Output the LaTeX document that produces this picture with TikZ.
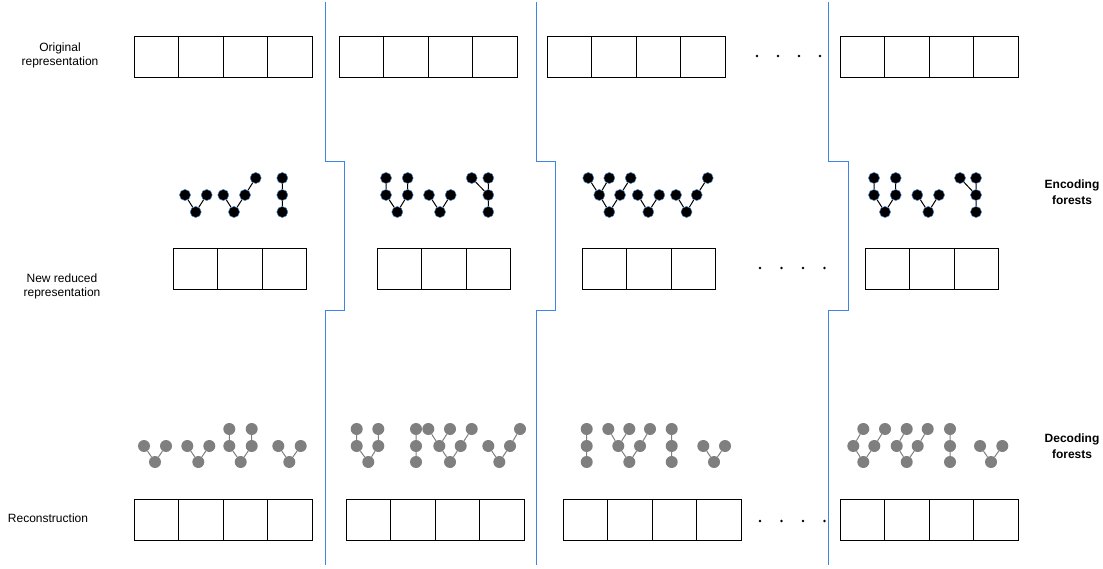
\documentclass[tikz,border=0pt]{standalone}
\usepackage{fontspec}
\setmainfont{Liberation Sans}
\definecolor{sepblue}{HTML}{3C85E6}
\definecolor{encblue}{HTML}{4A7FC0}
\definecolor{decgray}{HTML}{7F7F7F}
\tikzset{
  enc/.style={circle, fill=black, draw=encblue, line width=0.5pt, minimum size=11pt, inner sep=0pt},
  dec/.style={circle, fill=decgray, minimum size=12pt, inner sep=0pt},
  encedge/.style={black, line width=1pt},
  decedge/.style={decgray, line width=1pt},
  cell/.style={draw=black, line width=0.8pt, minimum width=44.5pt, minimum height=41pt, inner sep=0pt},
  sepline/.style={draw=sepblue, line width=1pt},
  lbl/.style={font=\fontsize{12}{14}\selectfont, align=center, inner sep=0pt},
  blbl/.style={font=\fontsize{12}{16}\selectfont\bfseries, align=center, inner sep=0pt},
  dotn/.style={circle, fill=black, minimum size=2.6pt, inner sep=0pt},
}
\begin{document}
\begin{tikzpicture}[x=1pt, y=-1pt]
\useasboundingbox (0,0) rectangle (1103,569);

% separator lines
\draw[sepline] (325,2) -- (325,162) -- (344,162) -- (344,311) -- (325,311) -- (325,565);
\draw[sepline] (536,2) -- (536,162) -- (555,162) -- (555,311) -- (536,311) -- (536,565);
\draw[sepline] (828,2) -- (828,162) -- (848,162) -- (848,311) -- (828,311) -- (828,565);

% labels
\node[lbl] (lorig) at (60,55) {Original\\representation};
\node[lbl] (lnew) at (62,286) {New reduced\\representation};
\node[lbl] (lrec) at (48,518) {Reconstruction};
\node[blbl] (lenc) at (1072,192) {Encoding\\forests};
\node[blbl] (ldec) at (1072,446) {Decoding\\forests};

% row 1: original representation
\foreach \g/\x in {1/134, 2/339, 3/547, 4/840}{
  \foreach \i in {0,1,2,3}{
    \node[cell] (o\g c\i) at ({\x+22.25+44.5*\i},56.5) {};
  }
}
% row 2: reduced representation
\foreach \g/\x in {1/173, 2/377, 3/582, 4/865}{
  \foreach \i in {0,1,2}{
    \node[cell] (n\g c\i) at ({\x+22.25+44.5*\i},268.5) {};
  }
}
% row 3: reconstruction
\foreach \g/\x in {1/134, 2/346, 3/563, 4/840}{
  \foreach \i in {0,1,2,3}{
    \node[cell] (r\g c\i) at ({\x+22.25+44.5*\i},519.5) {};
  }
}

% ellipsis dots
\foreach \i in {0,1,2,3}{
  \node[dotn] (dA\i) at ({757+21*\i},56) {};
  \node[dotn] (dB\i) at ({760+21.5*\i},268) {};
  \node[dotn] (dC\i) at ({760+21.5*\i},521) {};
}

% ---------- encoding forests ----------
% group 1
\node[enc] (e1a1) at (185,195) {};
\node[enc] (e1a2) at (195.7,212) {};
\node[enc] (e1a3) at (206.7,195) {};
\node[enc] (e1b1) at (223.3,195) {};
\node[enc] (e1b2) at (234,212) {};
\node[enc] (e1b3) at (245,195) {};
\node[enc] (e1b4) at (255.7,178) {};
\node[enc] (e1c1) at (282.3,178) {};
\node[enc] (e1c2) at (282.3,195) {};
\node[enc] (e1c3) at (282.3,212) {};
\draw[encedge] (e1a1) -- (e1a2) (e1a3) -- (e1a2)
  (e1b1) -- (e1b2) (e1b3) -- (e1b2) (e1b4) -- (e1b3)
  (e1c1) -- (e1c2) (e1c2) -- (e1c3);
% group 2
\node[enc] (e2a1) at (386,178) {};
\node[enc] (e2a2) at (386,195) {};
\node[enc] (e2a3) at (397.3,212) {};
\node[enc] (e2a4) at (407.7,195) {};
\node[enc] (e2a5) at (407.7,178) {};
\node[enc] (e2b1) at (429,195) {};
\node[enc] (e2b2) at (440,212) {};
\node[enc] (e2b3) at (450.7,195) {};
\node[enc] (e2c1) at (471.7,178) {};
\node[enc] (e2c2) at (488.3,178) {};
\node[enc] (e2c3) at (488.3,195) {};
\node[enc] (e2c4) at (488.3,212) {};
\draw[encedge] (e2a1) -- (e2a2) (e2a2) -- (e2a3) (e2a4) -- (e2a3) (e2a5) -- (e2a4)
  (e2b1) -- (e2b2) (e2b3) -- (e2b2)
  (e2c1) -- (e2c3) (e2c2) -- (e2c3) (e2c3) -- (e2c4);
% group 3
\node[enc] (e3a1) at (588.3,178) {};
\node[enc] (e3a2) at (609.3,178) {};
\node[enc] (e3a3) at (630.7,178) {};
\node[enc] (e3a4) at (599.3,195) {};
\node[enc] (e3a5) at (620,195) {};
\node[enc] (e3a6) at (609.3,212) {};
\node[enc] (e3b1) at (637.7,195) {};
\node[enc] (e3b2) at (648.3,212) {};
\node[enc] (e3b3) at (659.3,195) {};
\node[enc] (e3c1) at (676,195) {};
\node[enc] (e3c2) at (686.5,212) {};
\node[enc] (e3c3) at (696.7,195) {};
\node[enc] (e3c4) at (707.7,178) {};
\draw[encedge] (e3a1) -- (e3a4) (e3a2) -- (e3a4) (e3a3) -- (e3a5) (e3a4) -- (e3a6) (e3a5) -- (e3a6)
  (e3b1) -- (e3b2) (e3b3) -- (e3b2)
  (e3c1) -- (e3c2) (e3c3) -- (e3c2) (e3c4) -- (e3c3);
% group 4
\node[enc] (e4a1) at (874,178) {};
\node[enc] (e4a2) at (874,195) {};
\node[enc] (e4a3) at (885,212) {};
\node[enc] (e4a4) at (895.7,195) {};
\node[enc] (e4a5) at (895.7,178) {};
\node[enc] (e4b1) at (917.3,195) {};
\node[enc] (e4b2) at (928.3,212) {};
\node[enc] (e4b3) at (939,195) {};
\node[enc] (e4c1) at (960,178) {};
\node[enc] (e4c2) at (976,178) {};
\node[enc] (e4c3) at (976,195) {};
\node[enc] (e4c4) at (976,212) {};
\draw[encedge] (e4a1) -- (e4a2) (e4a2) -- (e4a3) (e4a4) -- (e4a3) (e4a5) -- (e4a4)
  (e4b1) -- (e4b2) (e4b3) -- (e4b2)
  (e4c1) -- (e4c3) (e4c2) -- (e4c3) (e4c3) -- (e4c4);

% ---------- decoding forests ----------
% group 1
\node[dec] (d1a1) at (144,446) {};
\node[dec] (d1a2) at (155,462) {};
\node[dec] (d1a3) at (166,446) {};
\node[dec] (d1b1) at (187.3,446) {};
\node[dec] (d1b2) at (198.3,462) {};
\node[dec] (d1b3) at (209.3,446) {};
\node[dec] (d1c1) at (229.3,429) {};
\node[dec] (d1c2) at (229.3,446) {};
\node[dec] (d1c3) at (240.7,462) {};
\node[dec] (d1c4) at (251.7,446) {};
\node[dec] (d1c5) at (251.7,429) {};
\node[dec] (d1d1) at (278.3,446) {};
\node[dec] (d1d2) at (289.3,462) {};
\node[dec] (d1d3) at (300.7,446) {};
\draw[decedge] (d1a1) -- (d1a2) (d1a3) -- (d1a2)
  (d1b1) -- (d1b2) (d1b3) -- (d1b2)
  (d1c1) -- (d1c2) (d1c2) -- (d1c3) (d1c4) -- (d1c3) (d1c5) -- (d1c4)
  (d1d1) -- (d1d2) (d1d3) -- (d1d2);
% group 2
\node[dec] (d2a1) at (356.7,429) {};
\node[dec] (d2a2) at (356.7,446) {};
\node[dec] (d2a3) at (368.3,462) {};
\node[dec] (d2a4) at (378.3,446) {};
\node[dec] (d2a5) at (378.3,429) {};
\node[dec] (d2b1) at (416,429) {};
\node[dec] (d2b2) at (416,446) {};
\node[dec] (d2b3) at (416,462) {};
\node[dec] (d2c1) at (428.3,429) {};
\node[dec] (d2c2) at (450,429) {};
\node[dec] (d2c3) at (471.7,429) {};
\node[dec] (d2c4) at (439.3,446) {};
\node[dec] (d2c5) at (460.7,446) {};
\node[dec] (d2c6) at (450,462) {};
\node[dec] (d2d1) at (488.3,446) {};
\node[dec] (d2d2) at (499.3,462) {};
\node[dec] (d2d3) at (510,446) {};
\node[dec] (d2d4) at (520,429) {};
\draw[decedge] (d2a1) -- (d2a2) (d2a2) -- (d2a3) (d2a4) -- (d2a3) (d2a5) -- (d2a4)
  (d2b1) -- (d2b2) (d2b2) -- (d2b3)
  (d2c1) -- (d2c4) (d2c2) -- (d2c4) (d2c3) -- (d2c5) (d2c4) -- (d2c6) (d2c5) -- (d2c6)
  (d2d1) -- (d2d2) (d2d3) -- (d2d2) (d2d4) -- (d2d3);
% group 3
\node[dec] (d3a1) at (586.7,429) {};
\node[dec] (d3a2) at (586.7,446) {};
\node[dec] (d3a3) at (586.7,462) {};
\node[dec] (d3b1) at (608.3,429) {};
\node[dec] (d3b2) at (629.3,429) {};
\node[dec] (d3b3) at (650,429) {};
\node[dec] (d3b4) at (618.3,446) {};
\node[dec] (d3b5) at (640,446) {};
\node[dec] (d3b6) at (629.3,462) {};
\node[dec] (d3c1) at (671.7,429) {};
\node[dec] (d3c2) at (671.7,446) {};
\node[dec] (d3c3) at (671.7,462) {};
\node[dec] (d3d1) at (703.3,446) {};
\node[dec] (d3d2) at (714,462) {};
\node[dec] (d3d3) at (725,446) {};
\draw[decedge] (d3a1) -- (d3a2) (d3a2) -- (d3a3)
  (d3b1) -- (d3b4) (d3b2) -- (d3b4) (d3b3) -- (d3b5) (d3b4) -- (d3b6) (d3b5) -- (d3b6)
  (d3c1) -- (d3c2) (d3c2) -- (d3c3)
  (d3d1) -- (d3d2) (d3d3) -- (d3d2);
% group 4
\node[dec] (d4a1) at (863.3,429) {};
\node[dec] (d4a2) at (885,429) {};
\node[dec] (d4a3) at (853.3,446) {};
\node[dec] (d4a4) at (874.3,446) {};
\node[dec] (d4a5) at (863.3,462) {};
\node[dec] (d4b1) at (906.7,429) {};
\node[dec] (d4b2) at (927.7,429) {};
\node[dec] (d4b3) at (896.7,446) {};
\node[dec] (d4b4) at (917.7,446) {};
\node[dec] (d4b5) at (906.7,462) {};
\node[dec] (d4c1) at (950,429) {};
\node[dec] (d4c2) at (950,446) {};
\node[dec] (d4c3) at (950,462) {};
\node[dec] (d4d1) at (980,446) {};
\node[dec] (d4d2) at (991,462) {};
\node[dec] (d4d3) at (1002.3,446) {};
\draw[decedge] (d4a1) -- (d4a3) (d4a2) -- (d4a4) (d4a3) -- (d4a5) (d4a4) -- (d4a5)
  (d4b1) -- (d4b3) (d4b2) -- (d4b4) (d4b3) -- (d4b5) (d4b4) -- (d4b5)
  (d4c1) -- (d4c2) (d4c2) -- (d4c3)
  (d4d1) -- (d4d2) (d4d3) -- (d4d2);
\end{tikzpicture}
\end{document}
